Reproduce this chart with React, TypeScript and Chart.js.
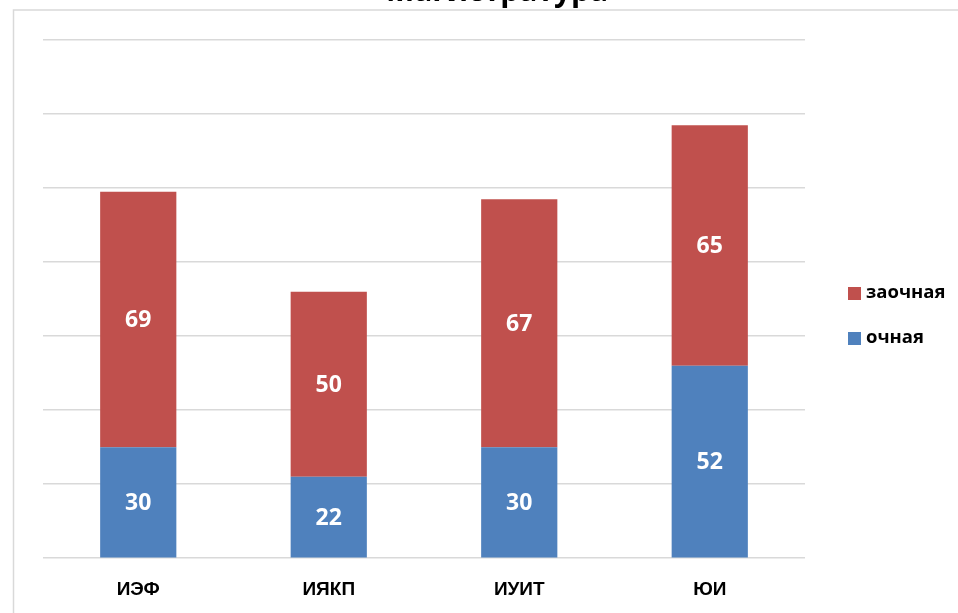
import React, { useEffect, useRef } from "react";
import { Chart, registerables } from "chart.js";

Chart.register(...registerables);

const title = "Магистратура";
const categories = ["ИЭФ", "ИЯКП", "ИУИТ", "ЮИ"];
const fullTime = [30, 22, 30, 52];
const partTime = [69, 50, 67, 65];
const seriesNames = ["очная", "заочная"];
const seriesColors = ["#4F81BD", "#C0504D"];
const yMax = 140;
const yStep = 20;

const overlay = {
  id: "overlay",
  afterDatasetsDraw(chart: any) {
    const ctx = chart.ctx;
    ctx.save();
    ctx.fillStyle = "#ffffff";
    ctx.font = "bold 23px 'Open Sans', sans-serif";
    ctx.textAlign = "center";
    ctx.textBaseline = "middle";
    chart.data.datasets.forEach((ds: any, di: number) => {
      const meta = chart.getDatasetMeta(di);
      meta.data.forEach((bar: any, i: number) => {
        const y = (bar.y + bar.base) / 2;
        ctx.fillText(String(ds.data[i]), bar.x, y + 1);
      });
    });
    ctx.restore();
  },
  afterDraw(chart: any) {
    const ctx = chart.ctx;
    ctx.save();
    ctx.strokeStyle = "#d9d9d9";
    ctx.lineWidth = 1.5;
    ctx.beginPath();
    ctx.moveTo(13.5, 613);
    ctx.lineTo(13.5, 10);
    ctx.lineTo(958, 10);
    ctx.stroke();
    ctx.fillStyle = "#000000";
    ctx.font = "bold 30px 'Open Sans', sans-serif";
    ctx.textAlign = "center";
    ctx.textBaseline = "alphabetic";
    ctx.fillText(title, 497, 1);
    ctx.font = "bold 18.5px 'Open Sans', sans-serif";
    ctx.textAlign = "left";
    ctx.textBaseline = "middle";
    const items = [1, 0];
    items.forEach((idx, k) => {
      const y = 293 + k * 45;
      ctx.fillStyle = seriesColors[idx];
      ctx.fillRect(848, y - 6, 13, 13);
      ctx.fillStyle = "#000000";
      ctx.fillText(seriesNames[idx], 866, y);
    });
    ctx.restore();
  },
};

export default function App() {
  const ref = useRef<HTMLCanvasElement>(null);
  useEffect(() => {
    if (!ref.current) return;
    const chart = new Chart(ref.current, {
      type: "bar",
      data: {
        labels: categories,
        datasets: [
          {
            label: seriesNames[0],
            data: fullTime,
            backgroundColor: seriesColors[0],
            categoryPercentage: 0.4,
            barPercentage: 1,
          },
          {
            label: seriesNames[1],
            data: partTime,
            backgroundColor: seriesColors[1],
            categoryPercentage: 0.4,
            barPercentage: 1,
          },
        ],
      },
      options: {
        animation: false,
        responsive: false,
        maintainAspectRatio: false,
        layout: { padding: { left: 43, right: 153, top: 40, bottom: 0 } },
        plugins: {
          legend: { display: false },
          title: { display: false },
          tooltip: { enabled: false },
        },
        scales: {
          x: {
            stacked: true,
            grid: { display: false },
            border: { display: false },
            ticks: {
              color: "#000000",
              font: { family: "'Liberation Sans', Arial, sans-serif", size: 19, weight: "bold" },
              padding: 12,
            },
          },
          y: {
            stacked: true,
            min: 0,
            max: yMax,
            ticks: { stepSize: yStep, display: false },
            grid: { color: "#d9d9d9", lineWidth: 1.5, drawTicks: false },
            border: { display: false },
          },
        },
      },
      plugins: [overlay],
    });
    return () => chart.destroy();
  }, []);
  return (
    <div style={{ position: "fixed", left: 0, top: 0, width: 958, height: 613, background: "#fff" }}>
      <canvas ref={ref} width={958} height={613} style={{ width: 958, height: 613 }} />
    </div>
  );
}
